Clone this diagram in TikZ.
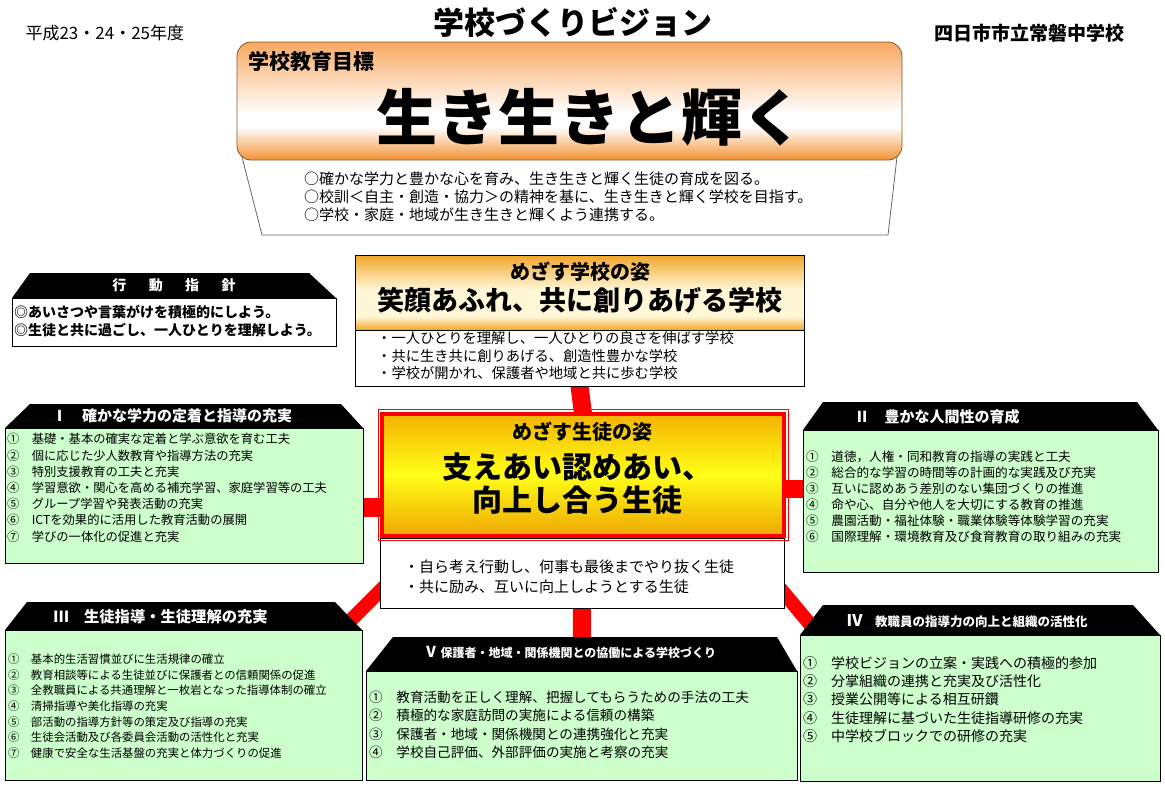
\documentclass[tikz,border=0pt]{standalone}
\usepackage{fontspec}
\setmainfont{Noto Sans CJK JP}

\definecolor{goaltop}{RGB}{247,168,96}
\definecolor{goalbot}{RGB}{244,146,52}
\definecolor{goalline}{RGB}{125,90,45}
\definecolor{schtop}{RGB}{241,166,42}
\definecolor{schmid}{RGB}{255,247,214}
\definecolor{schbot}{RGB}{240,168,40}
\definecolor{stutop}{RGB}{244,178,0}
\definecolor{stumid}{RGB}{255,255,24}
\definecolor{stubot}{RGB}{240,166,0}
\definecolor{boxgreen}{RGB}{204,255,204}
\definecolor{linkred}{RGB}{255,0,0}

\pgfdeclareverticalshading{goalshade}{100bp}{color(0bp)=(goalbot); color(25bp)=(goalbot); color(39bp)=(white); color(45bp)=(white); color(75bp)=(goaltop); color(100bp)=(goaltop)}
\pgfdeclareverticalshading{schoolshade}{100bp}{color(0bp)=(schbot); color(25bp)=(schbot); color(34bp)=(schmid); color(52bp)=(schmid); color(75bp)=(schtop); color(100bp)=(schtop)}

\pgfdeclarelayer{bg}
\pgfsetlayers{bg,main}

\newcommand\fsz[2]{\fontsize{#1}{#2}\selectfont}

\begin{document}
\begin{tikzpicture}[x=1pt,y=-1pt,
        greenbox/.style={draw=black,fill=boxgreen,line width=0.8pt,anchor=north west,inner sep=0pt,outer sep=0pt},
        whitebox/.style={draw=black,fill=white,line width=0.8pt,anchor=north west,inner sep=0pt,outer sep=0pt},
        headtext/.style={text=white,font=\bfseries\fsz{15}{18}},
        listline/.style={anchor=west,inner sep=0pt},
        connector/.style={draw=linkred,line width=18pt}]
        \useasboundingbox (0,0) rectangle (1165,788);
        \begin{pgfonlayer}{bg}
            \fill[white] (0,0) rectangle (1165,788);
        \end{pgfonlayer}

        %%%%%%%% Intestazione %%%%%%%%%
        \node[anchor=west,font=\fsz{17}{19}] (year) at (22,33) {平成23・24・25年度};
        \node[font=\bfseries\fsz{31}{34}] (title) at (573,22) {学校づくりビジョン};
        \node[anchor=east,font=\bfseries\fsz{19}{21}] (schoolname) at (1128,33) {四日市市立常磐中学校};

        %%%%%%%% Obiettivo %%%%%%%%%
        \node[draw=goalline,line width=0.8pt,rounded corners=14pt,shade,shading=goalshade,
              minimum width=665pt,minimum height=118pt,anchor=north west,outer sep=0pt] (goal) at (237,42) {};
        \begin{pgfonlayer}{bg}
            \draw[draw=black!60,fill=white,line width=0.8pt] ([shift={(5,-3)}]goal.south west) -- ([shift={(25,75)}]goal.south west)
                -- ([shift={(-14,75)}]goal.south east) -- ([shift={(-5,-3)}]goal.south east);
        \end{pgfonlayer}
        \node[anchor=west,font=\bfseries\fsz{21}{24}] (goalhead) at (245,62) {学校教育目標};
        \node[font=\bfseries\fsz{61}{66}] (goaltitle) at (590,117) {生き生きと輝く};
        \foreach \t [count=\i] in {○確かな学力と豊かな心を育み、生き生きと輝く生徒の育成を図る。,
                                   ○校訓＜自主・創造・協力＞の精神を基に、生き生きと輝く学校を目指す。,
                                   ○学校・家庭・地域が生き生きと輝くよう連携する。}
            \node[listline,font=\fsz{15}{17}] (goal-\i) at (304,161+18*\i) {\t};

        %%%%%%%% Azione %%%%%%%%%
        \node[whitebox,minimum width=324pt,minimum height=48pt] (guide) at (12,298) {};
        \fill (guide.north west) -- ++(18,-25) -- ([shift={(-27,-25)}]guide.north east) -- (guide.north east) -- cycle;
        \node[headtext,font=\bfseries\fsz{14}{16}] (guidehead) at (174,285) {行\hspace{1.6em}動\hspace{1.6em}指\hspace{1.6em}針};
        \foreach \t [count=\i] in {◎あいさつや言葉がけを積極的にしよう。,◎生徒と共に過ごし、一人ひとりを理解しよう。}
            \node[listline,font=\bfseries\fsz{14}{16}] (guide-\i) at (14,294+18*\i) {\t};

        %%%%%%%% Scuola %%%%%%%%%
        \node[draw,line width=0.8pt,shade,shading=schoolshade,minimum width=449pt,minimum height=75pt,
              anchor=north west,outer sep=0pt] (school) at (355,255) {};
        \node[font=\bfseries\fsz{20}{22}] (schoolhead) at (580,272) {めざす学校の姿};
        \node[font=\bfseries\fsz{27}{30}] (schoolgoal) at (580,300) {笑顔あふれ、共に創りあげる学校};
        \node[whitebox,minimum width=449pt,minimum height=56pt] (schoollist) at (355,330) {};
        \foreach \t [count=\i] in {・一人ひとりを理解し、一人ひとりの良さを伸ばす学校,
                                   ・共に生き共に創りあげる、創造性豊かな学校,
                                   ・学校が開かれ、保護者や地域と共に歩む学校}
            \node[listline,font=\fsz{14.3}{16}] (schoollist-\i) at (377,321+17.5*\i) {\t};

        %%%%%%%% Studenti %%%%%%%%%
        \node[whitebox,minimum width=404pt,minimum height=70pt] (studentlist) at (380,538) {};
        \node[draw=linkred,line width=4pt,top color=stutop,bottom color=stubot,middle color=stumid,
              minimum width=402pt,minimum height=122.5pt,anchor=north west,outer sep=0pt] (student) at (382,413.5) {};
        \draw[linkred,line width=1pt] ([shift={(-4,-4)}]student.north west) rectangle ([shift={(4,4)}]student.south east);
        \node[font=\bfseries\fsz{20}{22}] (studenthead) at (582,432) {めざす生徒の姿};
        \node[font=\bfseries\fsz{30}{33},align=center] (studentgoal) at (577,484) {支えあい認めあい、\\向上し合う生徒};
        \foreach \t [count=\i] in {・自ら考え行動し、何事も最後までやり抜く生徒,・共に励み、互いに向上しようとする生徒}
            \node[listline,font=\fsz{15}{17}] (studentlist-\i) at (404,547+20*\i) {\t};

        %%%%%%%% Riquadri %%%%%%%%%
        \node[greenbox,minimum width=358pt,minimum height=135pt] (b1) at (5,428) {};
        \node[greenbox,minimum width=355pt,minimum height=142pt] (b2) at (803,430) {};
        \node[greenbox,minimum width=357pt,minimum height=150pt] (b3) at (5,630) {};
        \node[greenbox,minimum width=360pt,minimum height=146pt] (b4) at (800,635) {};
        \node[greenbox,minimum width=431pt,minimum height=109pt] (b5) at (366,671) {};

        \foreach \b/\l/\r/\h in {b1/25/22/24,b2/20/21/28,b3/22/27/28,b4/23/27/30,b5/27/20/34}
            \fill (\b.north west) -- ++(\l,-\h) -- ([shift={(-\r,-\h)}]\b.north east) -- (\b.north east) -- cycle;

        \node[headtext] (b1head) at (172,416) {Ⅰ　確かな学力の定着と指導の充実};
        \node[headtext,anchor=west] (b2head) at (851,417) {Ⅱ　豊かな人間性の育成};
        \node[headtext,anchor=west,font=\bfseries\fsz{15.3}{18}] (b3head) at (50,617) {Ⅲ　生徒指導・生徒理解の充実};
        \node[headtext,anchor=west,font=\bfseries\fsz{12.5}{14}] (b4head) at (843,621) {{\fsz{16}{18}Ⅳ}　教職員の指導力の向上と組織の活性化};
        \node[headtext,anchor=west,font=\bfseries\fsz{12}{14}] (b5head) at (420,652) {{\fsz{15}{17}Ⅴ}\hspace{2pt}保護者・地域・関係機関との協働による学校づくり};

        %%%%%%%% Testo %%%%%%%%%
        \foreach \t [count=\i] in {①　基礎・基本の確実な定着と学ぶ意欲を育む工夫,
                                   ②　個に応じた少人数教育や指導方法の充実,
                                   ③　特別支援教育の工夫と充実,
                                   ④　学習意欲・関心を高める補充学習、家庭学習等の工夫,
                                   ⑤　グループ学習や発表活動の充実,
                                   ⑥　ICTを効果的に活用した教育活動の展開,
                                   ⑦　学びの一体化の促進と充実}
            \node[listline,font=\fsz{12.3}{14}] (b1-\i) at (7,423+16.2*\i) {\t};

        \foreach \t [count=\i] in {①　道徳，人権・同和教育の指導の実践と工夫,
                                   ②　総合的な学習の時間等の計画的な実践及び充実,
                                   ③　互いに認めあう差別のない集団づくりの推進,
                                   ④　命や心、自分や他人を大切にする教育の推進,
                                   ⑤　農園活動・福祉体験・職業体験等体験学習の充実,
                                   ⑥　国際理解・環境教育及び食育教育の取り組みの充実}
            \node[listline,font=\fsz{12.6}{15}] (b2-\i) at (806,441+16*\i) {\t};

        \foreach \t [count=\i] in {①　基本的生活習慣並びに生活規律の確立,
                                   ②　教育相談等による生徒並びに保護者との信頼関係の促進,
                                   ③　全教職員による共通理解と一枚岩となった指導体制の確立,
                                   ④　清掃指導や美化指導の充実,
                                   ⑤　部活動の指導方針等の策定及び指導の充実,
                                   ⑥　生徒会活動及び各委員会活動の活性化と充実,
                                   ⑦　健康で安全な生活基盤の充実と体力づくりの促進}
            \node[listline,font=\fsz{11.4}{14}] (b3-\i) at (8,643.3+15.7*\i) {\t};

        \foreach \t [count=\i] in {①　学校ビジョンの立案・実践への積極的参加,
                                   ②　分掌組織の連携と充実及び活性化,
                                   ③　授業公開等による相互研鑽,
                                   ④　生徒理解に基づいた生徒指導研修の充実,
                                   ⑤　中学校ブロックでの研修の充実}
            \node[listline,font=\fsz{14}{16}] (b4-\i) at (803,645+18.2*\i) {\t};

        \foreach \t [count=\i] in {①　教育活動を正しく理解、把握してもらうための手法の工夫,
                                   ②　積極的な家庭訪問の実施による信頼の構築,
                                   ③　保護者・地域・関係機関との連携強化と充実,
                                   ④　学校自己評価、外部評価の実施と考察の充実}
            \node[listline,font=\fsz{13.6}{16}] (b5-\i) at (369,679+18.3*\i) {\t};

        %%%%%%%% Collegamenti %%%%%%%%%
        \begin{pgfonlayer}{bg}
            \draw[connector] (schoollist.south) -- (student.north);
            \draw[connector] (studentlist.south) -- (b5.north);
            \draw[connector,line width=19pt] ([yshift=-11.5pt]b1.east) -- ++(20,0);
            \draw[connector] ([yshift=12pt]b2.west) -- ++(-22,0);
            \draw[connector,line width=14pt] ([shift={(10,8)}]studentlist.west) -- ++(-80,80);
            \draw[connector,line width=14pt] ([shift={(-10,8)}]studentlist.east) -- ++(75,90);
        \end{pgfonlayer}

    \end{tikzpicture}
\end{document}
